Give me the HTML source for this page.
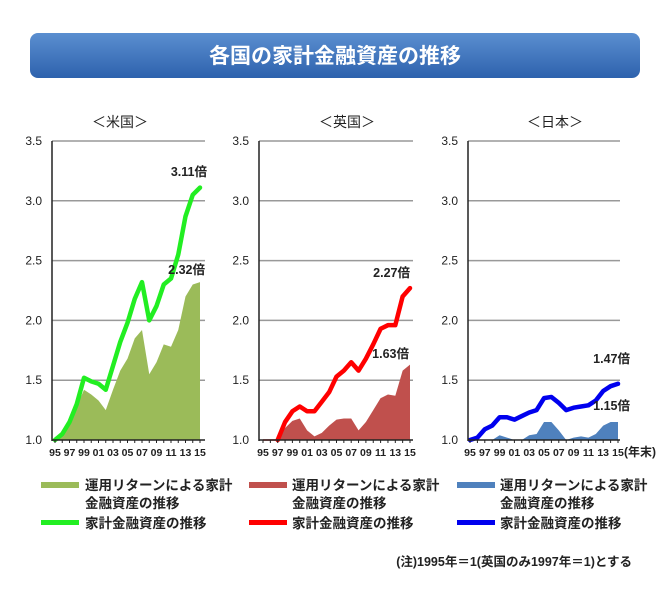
<!DOCTYPE html>
<html><head><meta charset="utf-8"><style>
body{margin:0;background:#fff;}
svg text{font-family:"Liberation Sans","Noto Sans CJK JP",sans-serif;}
</style></head><body>
<svg width="670" height="600" viewBox="0 0 670 600" xmlns="http://www.w3.org/2000/svg">
<defs><linearGradient id="g" x1="0" y1="0" x2="0" y2="1"><stop offset="0" stop-color="#5b8fd0"/><stop offset="1" stop-color="#2d62ad"/></linearGradient></defs>
<rect x="30" y="33" width="610" height="45" rx="8" fill="url(#g)"/>
<text x="335" y="63" font-size="21" fill="#fff" text-anchor="middle" font-weight="600">各国の家計金融資産の推移</text>
<g id="charts"></g>
<g font-size="13.5" fill="#222" font-weight="bold">
<rect x="41" y="482" width="38" height="6" fill="#9bbb59"/>
<text x="85" y="490">運用リターンによる家計</text><text x="85" y="508">金融資産の推移</text>
<rect x="41" y="520" width="38" height="5" fill="#22ee22"/>
<text x="85" y="528">家計金融資産の推移</text>
<rect x="249" y="482" width="38" height="6" fill="#c0504d"/>
<text x="292" y="490">運用リターンによる家計</text><text x="292" y="508">金融資産の推移</text>
<rect x="249" y="520" width="38" height="5" fill="#ff0000"/>
<text x="292" y="528">家計金融資産の推移</text>
<rect x="457" y="482" width="38" height="6" fill="#4f81bd"/>
<text x="500" y="490">運用リターンによる家計</text><text x="500" y="508">金融資産の推移</text>
<rect x="457" y="520" width="38" height="5" fill="#0000ee"/>
<text x="500" y="528">家計金融資産の推移</text>
<text x="632" y="566" font-size="12.5" text-anchor="end">(注)1995年＝1(英国のみ1997年＝1)とする</text>
</g>
</svg>
<script>
const NS="http://www.w3.org/2000/svg";const root=document.getElementById('charts');
function el(t,a,txt){const e=document.createElementNS(NS,t);for(const k in a)e.setAttribute(k,a[k]);if(txt)e.textContent=txt;root.appendChild(e);return e;}
const Y=v=>440-(v-1)*119.6;
const panels=[
{ax:52,f:55,l:200,ge:205,title:"＜米国＞",tc:120,start:0,
 line:[1.0,1.05,1.15,1.3,1.52,1.49,1.47,1.42,1.62,1.82,1.98,2.18,2.32,2.0,2.12,2.3,2.35,2.55,2.87,3.05,3.11],
 area:[1.0,1.03,1.12,1.28,1.42,1.38,1.33,1.25,1.42,1.58,1.68,1.85,1.92,1.55,1.65,1.8,1.78,1.92,2.2,2.3,2.32],
 lc:"#22ee22",ac:"#9bbb59",lab:[["3.11倍",207,176],["2.32倍",205,274]]},
{ax:259,f:263,l:410,ge:413,title:"＜英国＞",tc:347,start:2,
 line:[1.0,1.15,1.24,1.28,1.24,1.24,1.32,1.4,1.53,1.58,1.65,1.58,1.68,1.8,1.93,1.96,1.96,2.2,2.27],
 area:[1.0,1.1,1.16,1.18,1.08,1.03,1.06,1.12,1.17,1.18,1.18,1.08,1.15,1.25,1.35,1.38,1.37,1.58,1.63],
 lc:"#ff0000",ac:"#c0504d",lab:[["2.27倍",410,277],["1.63倍",409,358]]},
{ax:468,f:470,l:618,ge:620,title:"＜日本＞",tc:555,start:0,
 line:[1.0,1.02,1.09,1.12,1.19,1.19,1.17,1.2,1.23,1.25,1.35,1.36,1.31,1.25,1.27,1.28,1.29,1.33,1.41,1.45,1.47],
 area:[1.0,1.0,1.0,1.0,1.04,1.02,1.0,1.0,1.04,1.05,1.15,1.15,1.08,1.0,1.02,1.03,1.02,1.05,1.12,1.15,1.15],
 lc:"#0000ee",ac:"#4f81bd",lab:[["1.47倍",630,363],["1.15倍",630,410]]}];
panels.forEach(p=>{
 const st=(p.l-p.f)/20;const X=i=>p.f+i*st;
 el('text',{x:p.tc,y:127,'font-size':14,'text-anchor':'middle',fill:'#222'},p.title);
 [1.5,2.0,2.5,3.0,3.5].forEach(v=>el('line',{x1:p.ax,x2:p.ge,y1:Y(v),y2:Y(v),stroke:'#999','stroke-width':1.5}));
 [1.0,1.5,2.0,2.5,3.0,3.5].forEach(v=>el('text',{x:p.ax-10,y:Y(v)+4,'font-size':12,'text-anchor':'end',fill:'#222'},v.toFixed(1)));
 let pts=p.area.map((v,i)=>X(i+p.start)+','+Y(v)).join(' ');
 el('polygon',{points:X(p.start)+','+Y(1)+' '+pts+' '+X(20)+','+Y(1),fill:p.ac});
 if(p.start>0)el('line',{x1:p.f,x2:X(p.start),y1:Y(1),y2:Y(1),stroke:p.lc,'stroke-width':1.5});
 el('polyline',{points:p.line.map((v,i)=>X(i+p.start)+','+Y(v)).join(' '),fill:'none',stroke:p.lc,'stroke-width':4.5,'stroke-linejoin':'round','stroke-linecap':'round'});
 el('line',{x1:p.ax,x2:p.ge,y1:Y(1),y2:Y(1),stroke:'#222','stroke-width':1.5});
 el('line',{x1:p.ax,x2:p.ax,y1:Y(3.5),y2:Y(1)+1,stroke:'#222','stroke-width':1.5});
 for(let i=0;i<=20;i++)el('line',{x1:X(i),x2:X(i),y1:Y(1),y2:Y(1)+3,stroke:'#222'});
 for(let i=0;i<=20;i+=2)el('text',{x:X(i),y:456,'font-size':10.5,'font-weight':'bold','text-anchor':'middle',fill:'#222'},String((95+i)%100).padStart(2,'0'));
 p.lab.forEach(a=>el('text',{x:a[1],y:a[2],'font-size':12.5,'font-weight':'bold','text-anchor':'end',fill:'#222'},a[0]));
});
el('text',{x:624,y:456,'font-size':12,'font-weight':'bold',fill:'#222'},'(年末)');
</script>
</body></html>
